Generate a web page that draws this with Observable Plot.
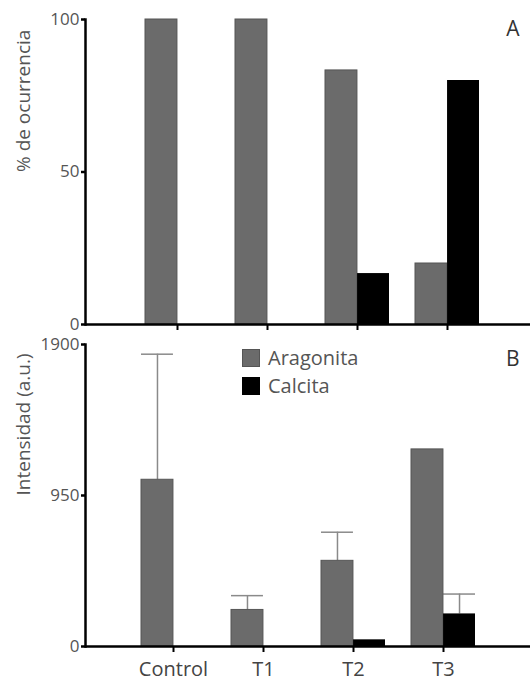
<!DOCTYPE html>
<html>
<head>
<meta charset="utf-8">
<script src="https://cdn.jsdelivr.net/npm/d3@7"></script>
<script src="https://cdn.jsdelivr.net/npm/@observablehq/plot@0.6"></script>
<style>
  body { margin: 0; background: #fff; }
  #wrap { position: relative; width: 530px; font-family: "Open Sans", sans-serif; }
  #wrap svg { display: block; overflow: visible; }
  .legend { position: absolute; left: 242px; top: 344px; color: #555; font-size: 20px; line-height: 28px; }
  .legend .row { display: flex; align-items: center; height: 28px; }
  .legend .sw { width: 18px; height: 18px; margin-right: 8px; box-sizing: border-box; }
</style>
</head>
<body>
<div id="wrap"></div>
<script>
const categories = ["Control", "T1", "T2", "T3"];
const seriesNames = ["Aragonita", "Calcita"];
// Panel A: % de ocurrencia
const occAragonita = [100, 100, 83.3, 20];
const occCalcita = [0, 0, 16.7, 80];
const occTicks = [0, 50, 100];
// Panel B: Intensidad (a.u.)
const intAragonita = [1049, 230, 539, 1240];
const intCalcita = [0, 0, 42, 205];
const errAragonita = [790, 90, 180, 0];
const errCalcita = [0, 0, 0, 125];
const intTicks = [0, 950, 1900];

const colors = {Aragonita: "#6b6b6b", Calcita: "#000"};
const W = 530, ML = 85, MR = 0;
const padInner = 0.29, padOuter = 0.609;

function rows(a, c, ea, ec) {
  const out = [];
  categories.forEach((cat, i) => {
    out.push({cat, series: "Aragonita", value: a[i], err: ea ? ea[i] : 0});
    out.push({cat, series: "Calcita", value: c[i], err: ec ? ec[i] : 0});
  });
  return out;
}

function panel({data, ticks, domain, label, letter, height, mt, mb, align, showCats, letterDy}) {
  const band = d3.scaleBand().domain(categories).range([ML, W - MR])
    .paddingInner(padInner).paddingOuter(padOuter).align(align);
  const half = band.bandwidth() / 2;
  const ar = data.filter(d => d.series === "Aragonita" && d.value > 0);
  const ca = data.filter(d => d.series === "Calcita" && d.value > 0);
  const errA = ar.filter(d => d.err > 0);
  const errC = ca.filter(d => d.err > 0);
  return Plot.plot({
    width: W, height, marginLeft: ML, marginRight: MR, marginTop: mt, marginBottom: mb,
    style: {fontFamily: "Open Sans, sans-serif", fontSize: "17px", color: "#555", background: "#fff", overflow: "visible"},
    x: {type: "band", domain: categories, paddingInner: padInner, paddingOuter: padOuter, align, axis: null},
    y: {domain, axis: null},
    marks: [
      Plot.ruleX(errA, {x: "cat", y1: "value", y2: d => d.value + d.err, dx: -half / 2, stroke: "#8a8a8a", strokeWidth: 1.5}),
      Plot.tickY(errA, {x: "cat", y: d => d.value + d.err, insetRight: half, stroke: "#8a8a8a", strokeWidth: 1.5}),
      Plot.ruleX(errC, {x: "cat", y1: "value", y2: d => d.value + d.err, dx: half / 2, stroke: "#8a8a8a", strokeWidth: 1.5}),
      Plot.tickY(errC, {x: "cat", y: d => d.value + d.err, insetLeft: half, stroke: "#8a8a8a", strokeWidth: 1.5}),
      Plot.barY(ar, {x: "cat", y: "value", insetRight: half, fill: colors.Aragonita, stroke: "#555", strokeWidth: 1}),
      Plot.barY(ca, {x: "cat", y: "value", insetLeft: half, fill: colors.Calcita}),
      Plot.axisY({ticks, tickSize: 4, tickPadding: 2, stroke: "#000", strokeWidth: 2.5, fill: "#555", fontSize: 17,
        tickFormat: d3.format("d"), label: null}),
      Plot.text([label], {frameAnchor: "left", rotate: -90, dx: -62, fontSize: 19, fill: "#555"}),
      Plot.axisX({tickSize: 6, stroke: "#000", strokeWidth: 2, fill: "#444", fontSize: 20, tickPadding: 9,
        tickFormat: showCats ? (d => d) : (() => ""), label: null}),
      Plot.frame({anchor: "left", stroke: "#000", strokeWidth: 2.5}),
      Plot.ruleY([0], {stroke: "#000", strokeWidth: 2.5}),
      Plot.text([letter], {frameAnchor: "top-right", dx: -11, dy: letterDy, fontSize: 21, fill: "#333"})
    ]
  });
}

const wrap = document.getElementById("wrap");
wrap.append(panel({
  data: rows(occAragonita, occCalcita), ticks: occTicks, domain: [0, 100],
  label: "% de ocurrencia", letter: "A", height: 330, mt: 19, mb: 6, align: 0.536,
  showCats: false, letterDy: 2
}));
wrap.append(panel({
  data: rows(intAragonita, intCalcita, errAragonita, errCalcita), ticks: intTicks, domain: [0, 1900],
  label: "Intensidad (a.u.)", letter: "B", height: 354, mt: 14, mb: 38, align: 0.5,
  showCats: true, letterDy: 7
}));

const legend = document.createElement("div");
legend.className = "legend";
seriesNames.forEach(s => {
  const row = document.createElement("div");
  row.className = "row";
  const sw = document.createElement("span");
  sw.className = "sw";
  sw.style.background = colors[s];
  sw.style.border = s === "Aragonita" ? "1px solid #555" : "none";
  const t = document.createElement("span");
  t.textContent = s;
  row.append(sw, t);
  legend.append(row);
});
wrap.append(legend);
</script>
</body>
</html>
